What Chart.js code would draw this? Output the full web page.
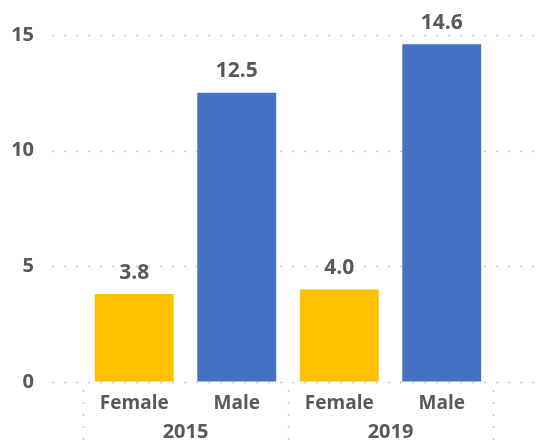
<!DOCTYPE html>
<html>
<head>
<meta charset="utf-8">
<script src="https://cdn.jsdelivr.net/npm/chart.js@4"></script>
<style>
  body { margin: 0; background: #fff; }
  #wrap { width: 536px; height: 442px; }
</style>
</head>
<body>
<div id="wrap"><canvas id="chart" width="536" height="442"></canvas></div>
<script>
// dados
const categorias = ["Female", "Male", "Female", "Male"];
const anos = ["2015", "2019"];
const valores = [3.8, 12.5, 4.0, 14.6];
const yTicks = [0, 5, 10, 15];

const corFem = "#FFC000";
const corMasc = "#4472C4";
const corTexto = "#595959";
const corGrade = "#c8c8c8";
const fonte = "'Open Sans', sans-serif";

// linhas de grade pontilhadas (estendidas até a borda)
const gradePlugin = {
    id: "grade",
    beforeDatasetsDraw(chart) {
        const { ctx, chartArea, scales } = chart;
        const y = scales.y;
        const x = scales.x;
        ctx.save();
        ctx.strokeStyle = corGrade;
        ctx.lineWidth = 1.5;
        ctx.setLineDash([2, 10]);
        yTicks.forEach(v => {
            const py = Math.round(y.getPixelForValue(v)) + 0.5;
            ctx.beginPath();
            ctx.moveTo(chartArea.left - 31, py);
            ctx.lineTo(chart.width, py);
            ctx.stroke();
        });
        // separadores dos grupos (anos)
        const passo = x.width / categorias.length;
        for (let i = 0; i <= categorias.length; i += 2) {
            const px = Math.round(x.left + i * passo) + 0.5;
            ctx.beginPath();
            ctx.moveTo(px, chartArea.bottom + 8);
            ctx.lineTo(px, chart.height);
            ctx.stroke();
        }
        ctx.restore();
    }
};

// rótulos de valor
const rotulosPlugin = {
    id: "rotulos",
    afterDatasetsDraw(chart) {
        const { ctx } = chart;
        const meta = chart.getDatasetMeta(0);
        ctx.save();
        ctx.fillStyle = corTexto;
        ctx.font = "bold 21px " + fonte;
        ctx.textAlign = "center";
        ctx.textBaseline = "bottom";
        meta.data.forEach((bar, i) => {
            ctx.fillText(valores[i].toFixed(1), bar.x, bar.y - 11);
        });
        ctx.restore();
    }
};

new Chart(document.getElementById("chart"), {
    type: "bar",
    data: {
        labels: categorias,
        datasets: [{
            data: valores,
            backgroundColor: categorias.map(c => c === "Female" ? corFem : corMasc),
            barPercentage: 0.77,
            categoryPercentage: 1
        }]
    },
    options: {
        responsive: false,
        animation: false,
        layout: { padding: { top: 35, right: 43, left: 0, bottom: 0 } },
        plugins: { legend: { display: false }, tooltip: { enabled: false } },
        scales: {
            y: {
                min: 0,
                max: 15,
                afterBuildTicks: s => { s.ticks = yTicks.map(v => ({ value: v })); },
                afterFit: s => { s.width = 83; },
                grid: {
                    display: true,
                    drawOnChartArea: false,
                    drawTicks: true,
                    tickLength: 46,
                    color: "rgba(0,0,0,0)"
                },
                border: { display: false },
                ticks: {
                    padding: 3,
                    color: corTexto,
                    font: { family: fonte, size: 20, weight: "bold" }
                }
            },
            x: {
                position: "bottom",
                afterFit: s => { s.height = 28; },
                grid: { display: false, drawTicks: false },
                border: { display: false },
                ticks: {
                    padding: 10,
                    color: corTexto,
                    font: { family: fonte, size: 19, weight: "bold" }
                }
            },
            x2: {
                type: "category",
                position: "bottom",
                labels: anos,
                offset: true,
                afterFit: s => { s.height = 32; },
                grid: { display: false, drawTicks: false },
                border: { display: false },
                ticks: {
                    padding: 10,
                    color: corTexto,
                    font: { family: fonte, size: 20, weight: "bold" }
                }
            }
        }
    },
    plugins: [gradePlugin, rotulosPlugin]
});
</script>
</body>
</html>
